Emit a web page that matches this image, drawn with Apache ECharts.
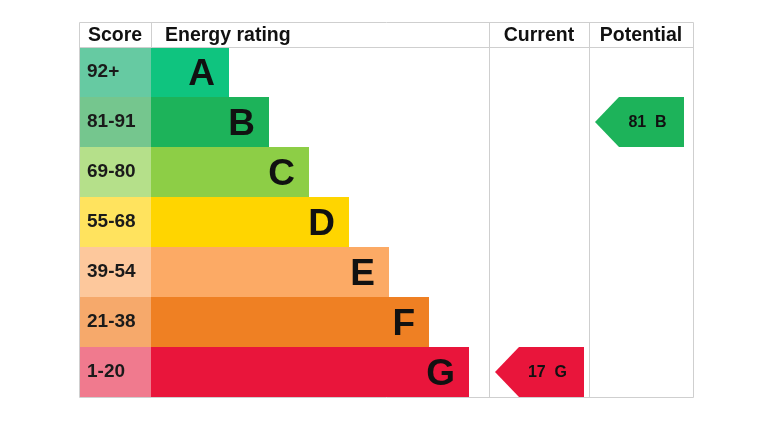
<!DOCTYPE html>
<html>
<head>
<meta charset="utf-8">
<script src="https://cdn.jsdelivr.net/npm/echarts@6/dist/echarts.min.js"></script>
<style>html,body{margin:0;padding:0;background:#fff}#c{width:778px;height:433px}</style>
</head>
<body>
<div id="c"></div>
<script>
// ---- data ----
var ratings = ['A', 'B', 'C', 'D', 'E', 'F', 'G'];
var scoreRanges = ['92+', '81-91', '69-80', '55-68', '39-54', '21-38', '1-20'];
var barLengths = [78, 118, 158, 198, 238, 278, 318];   // bar length units
var headers = ['Score', 'Energy rating', 'Current', 'Potential'];
var currentScore = 17, currentRating = 'G';
var potentialScore = 81, potentialRating = 'B';

// ---- styles ----
var barColors = ['#0fc47f', '#1db35a', '#8dce46', '#ffd500', '#fcaa65', '#ef8023', '#e9153b'];
var scoreColors = ['#66caa2', '#75c68e', '#b5e08a', '#ffe35e', '#fdc89c', '#f6a96b', '#f07a8e'];
var FONT = '"Liberation Sans", Arial, sans-serif';
var L = 79, T = 22, W = 614, HEAD = 25, H = 350;
var scoreW = 72, curStart = 410, potStart = 510, colEnd = 614;

var chart = echarts.init(document.getElementById('c'), null, {renderer: 'canvas'});

var rowData = ratings.map(function (r, i) { return [i, barLengths[i], scoreRanges[i], r]; });
var arrowData = [
  [curStart, ratings.indexOf(currentRating), currentScore + '  ' + currentRating, curStart + 6, potStart - 5],
  [potStart, ratings.indexOf(potentialRating), potentialScore + '  ' + potentialRating, potStart + 6, colEnd - 9]
];

function rowBand(api, idx) {
  var p = api.coord([0, idx]);
  var h = api.size([0, 1])[1];
  return {x0: p[0], yTop: p[1] - h / 2, h: h};
}

var option = {
  animation: false,
  grid: {left: L, top: T + HEAD, width: W, height: H},
  xAxis: {type: 'value', min: 0, max: W, show: false},
  yAxis: {type: 'category', data: ratings, inverse: true, show: false},
  series: [
    {
      type: 'custom',
      data: rowData,
      encode: {x: 1, y: 0},
      renderItem: function (params, api) {
        var idx = api.value(0);
        var b = rowBand(api, idx);
        var xs = api.coord([scoreW, idx])[0];
        var xe = api.coord([scoreW + api.value(1), idx])[0];
        var cy = b.yTop + b.h / 2;
        return {
          type: 'group',
          children: [
            {type: 'rect', shape: {x: b.x0, y: b.yTop, width: xs - b.x0, height: b.h}, style: {fill: scoreColors[idx]}},
            {type: 'rect', shape: {x: xs, y: b.yTop, width: xe - xs, height: b.h}, style: {fill: barColors[idx]}},
            {type: 'text', style: {text: api.value(2), x: b.x0 + 8, y: cy, fill: '#1a1a1a',
              font: 'bold 19px ' + FONT, align: 'left', verticalAlign: 'middle'}},
            {type: 'text', style: {text: api.value(3), x: xe - 14, y: cy + 3, fill: '#111',
              font: 'bold 37px ' + FONT, align: 'right', verticalAlign: 'middle'}}
          ]
        };
      }
    },
    {
      type: 'custom',
      data: arrowData,
      encode: {x: 0, y: 1},
      renderItem: function (params, api) {
        var idx = api.value(1);
        var b = rowBand(api, idx);
        var tip = api.coord([api.value(3), idx])[0];
        var right = api.coord([api.value(4), idx])[0];
        var body = tip + 24;
        var cy = b.yTop + b.h / 2;
        var pts = [[tip, cy], [body, b.yTop], [right, b.yTop], [right, b.yTop + b.h], [body, b.yTop + b.h]];
        return {
          type: 'group',
          children: [
            {type: 'polygon', shape: {points: pts}, style: {fill: barColors[idx]}},
            {type: 'text', style: {text: api.value(2), x: (body + right) / 2 - 4, y: cy + 1, fill: '#111',
              font: 'bold 16px ' + FONT, align: 'center', verticalAlign: 'middle'}}
          ]
        };
      }
    }
  ],
  graphic: [
    {type: 'rect', shape: {x: L + 0.5, y: T + 0.5, width: W, height: HEAD + H}, style: {fill: null, stroke: '#cfcfcf', lineWidth: 1}, z: 10},
    {type: 'line', shape: {x1: L, y1: T + HEAD + 0.5, x2: L + W, y2: T + HEAD + 0.5}, style: {stroke: '#cfcfcf', lineWidth: 1}, z: 10},
    {type: 'line', shape: {x1: L + scoreW + 0.5, y1: T, x2: L + scoreW + 0.5, y2: T + HEAD}, style: {stroke: '#cfcfcf', lineWidth: 1}, z: 10},
    {type: 'line', shape: {x1: L + curStart + 0.5, y1: T, x2: L + curStart + 0.5, y2: T + HEAD + H}, style: {stroke: '#cfcfcf', lineWidth: 1}, z: 10},
    {type: 'line', shape: {x1: L + potStart + 0.5, y1: T, x2: L + potStart + 0.5, y2: T + HEAD + H}, style: {stroke: '#cfcfcf', lineWidth: 1}, z: 10},
    {type: 'text', x: L + 9, y: T + HEAD / 2 + 1, style: {text: headers[0], font: 'bold 19.5px ' + FONT, fill: '#111', align: 'left', verticalAlign: 'middle'}, z: 11},
    {type: 'text', x: L + scoreW + 14, y: T + HEAD / 2 + 1, style: {text: headers[1], font: 'bold 19.5px ' + FONT, fill: '#111', align: 'left', verticalAlign: 'middle'}, z: 11},
    {type: 'text', x: L + (curStart + potStart) / 2, y: T + HEAD / 2 + 1, style: {text: headers[2], font: 'bold 19.5px ' + FONT, fill: '#111', align: 'center', verticalAlign: 'middle'}, z: 11},
    {type: 'text', x: L + (potStart + colEnd) / 2, y: T + HEAD / 2 + 1, style: {text: headers[3], font: 'bold 19.5px ' + FONT, fill: '#111', align: 'center', verticalAlign: 'middle'}, z: 11}
  ]
};
chart.setOption(option);
</script>
</body>
</html>
